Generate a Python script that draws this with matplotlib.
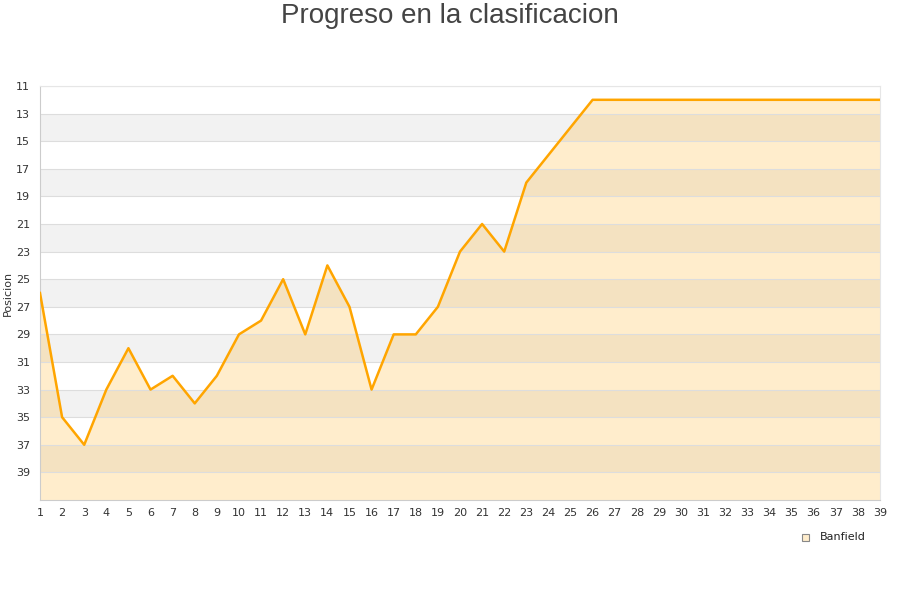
import numpy as np
import matplotlib.pyplot as plt

# Datos
jornadas = np.arange(1, 40)
posicion = [26, 35, 37, 33, 30, 33, 32, 34, 32, 29,
            28, 25, 29, 24, 27, 33, 29, 29, 27, 23,
            21, 23, 18, 16, 14, 12, 12, 12, 12, 12,
            12, 12, 12, 12, 12, 12, 12, 12, 12]
equipo = "Banfield"
y_ticks = np.arange(11, 41, 2)

fig = plt.figure(figsize=(9, 6), dpi=100)
ax = fig.add_axes([40/900, 1-500/600, 840/900, 414/600])

# Bandas alternas
for y0 in range(13, 41, 4):
    ax.axhspan(y0, y0 + 2, color='#f2f2f2', zorder=0, lw=0)

ax.fill_between(jornadas, posicion, 41, color='orange', alpha=0.2, lw=0, zorder=1)
ax.plot(jornadas, posicion, color='orange', lw=1.8, zorder=3)

ax.set_xlim(1, 39)
ax.set_ylim(41, 11)
ax.set_xticks(jornadas)
ax.set_yticks(y_ticks)
ax.grid(axis='y', color='#dddddd', lw=0.8, zorder=2)
ax.tick_params(length=0, labelsize=8, colors='#333333')
ax.tick_params(axis='x', pad=6)
ax.tick_params(axis='y', pad=7)
for s in ['top', 'right']:
    ax.spines[s].set_color('#e6e6e6')
for s in ['left', 'bottom']:
    ax.spines[s].set_color('#cccccc')

ax.set_ylabel("Posicion", fontsize=8, color='#333333', labelpad=2)

fig.suptitle("Progreso en la clasificacion", y=0.995, fontsize=20,
             color='#444444', family='Liberation Sans')

# Leyenda
fig.patches.append(plt.Rectangle((802/900, 1-541/600), 7/900, 7/600,
                                 transform=fig.transFigure, fc='#ffedcc', ec='#888888', lw=0.8))
fig.text(820/900, 1-537/600, equipo, fontsize=8, color='#222222', va='center')

fig.savefig("out.png", dpi=100)
